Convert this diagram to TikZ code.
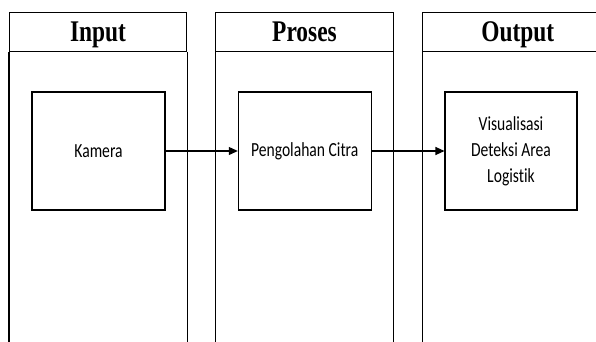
\documentclass[tikz,border=0pt]{standalone}
\usepackage{fontspec}
\setmainfont[Ligatures={NoCommon,NoRare,NoContextual}]{Carlito}
\newfontfamily\headfont{Liberation Serif}
\usetikzlibrary{arrows.meta}
\tikzset{
  lane/.style={draw, line width=1.1pt, inner sep=0pt, minimum height=39pt,
    text height=23pt, text depth=4pt,
    font=\headfont\bfseries\fontsize{30}{30}\selectfont},
  procbox/.style={draw, line width=1.1pt, inner sep=0pt, align=center,
    font=\fontsize{20}{26}\selectfont},
  flow/.style={line width=1.1pt, -{Triangle[length=9pt,width=8pt]}},
  laneside/.style={line width=1.1pt}
}
\newcommand{\narrow}[1]{\scalebox{0.78}[1]{#1}}
\begin{document}
\begin{tikzpicture}[x=1pt,y=-1pt]
  \useasboundingbox (0,0) rectangle (596,342);
  \clip (0,0) rectangle (596,342);
  % column headers
  \node[lane, minimum width=177pt] (hIn)  at (98,32.2)  {\narrow{Input}};
  \node[lane, minimum width=177.6pt] (hPro) at (304.5,32.2) {\narrow{Proses}};
  \node[lane, minimum width=190pt] (hOut) at (517.7,32.2) {\narrow{Output}};
  % column sides running down past the bottom edge
  \coordinate (bot) at (0,360);
  \foreach \h in {hIn,hPro,hOut}{
    \draw[laneside] (\h.south west) -- (\h.south west |- bot);
    \draw[laneside] (\h.south east) -- (\h.south east |- bot);
  }
  % process boxes
  \node[procbox, minimum width=133pt, minimum height=118pt] (kam) at (98.5,151) {\narrow{Kamera}};
  \node[procbox, minimum width=132.7pt, minimum height=118pt] (cit) at (304.7,151) {\narrow{Pengolahan Citra}};
  \node[procbox, minimum width=132pt, minimum height=118pt] (vis) at (511,151)
    {\narrow{Visualisasi}\\\narrow{Deteksi Area}\\\narrow{Logistik}};
  % flow arrows
  \draw[flow] (kam.east) -- (cit.west);
  \draw[flow] (cit.east) -- (vis.west);
\end{tikzpicture}
\end{document}
